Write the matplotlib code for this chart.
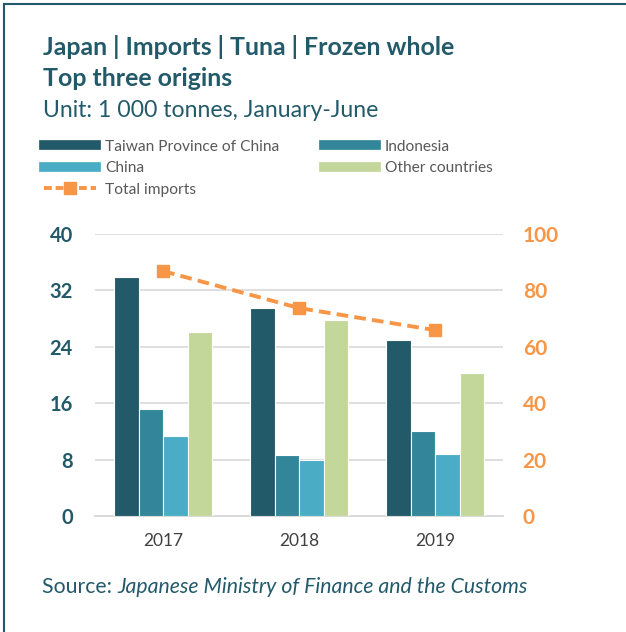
import numpy as np
import matplotlib.pyplot as plt
from matplotlib.lines import Line2D

plt.rcParams['font.family'] = ['Lato', 'DejaVu Sans']

years = ['2017', '2018', '2019']
taiwan = [33.8, 29.5, 24.9]
indonesia = [15.2, 8.6, 12.0]
china = [11.3, 8.0, 8.8]
other = [26.1, 27.7, 20.2]
total = [86.7, 73.6, 65.8]

names = ['Taiwan Province of China', 'Indonesia', 'China', 'Other countries']
colors = ['#235A6A', '#338599', '#4BACC6', '#C4D79B']
orange = '#F79646'
dark = '#235A6A'

fig = plt.figure(figsize=(6.26, 6.32), dpi=100)
ax = fig.add_axes([0.152, 0.1835, 0.652, 0.447])
ax2 = ax.twinx()

x = np.arange(len(years))
w = 0.18
for i, (vals, c) in enumerate(zip([taiwan, indonesia, china, other], colors)):
    ax.bar(x + (i - 1.5) * w, vals, w, color=c, edgecolor='white', linewidth=0.8, zorder=3)

ax2.plot(x, total, color=orange, linestyle=(0, (3, 1.6)), linewidth=2.8,
         marker='s', markersize=9, zorder=4)

ax.set_xlim(-0.5, 2.5)
ax.set_ylim(0, 40)
ax.set_yticks([0, 8, 16, 24, 32, 40])
ax2.set_ylim(0, 100)
ax2.set_yticks([0, 20, 40, 60, 80, 100])
ax.set_xticks(x)
ax.set_xticklabels(years)
ax.grid(axis='y', color='#D9D9D9', linewidth=1.2, zorder=0)
for s in ['top', 'right', 'left']:
    ax.spines[s].set_visible(False)
    ax2.spines[s].set_visible(False)
ax2.spines['bottom'].set_visible(False)
ax.spines['bottom'].set_color('#D9D9D9')
ax.spines['bottom'].set_linewidth(1.4)
ax.tick_params(axis='y', length=0, pad=16, labelsize=14.5, labelcolor=dark)
ax.tick_params(axis='x', length=0, pad=12, labelsize=12.5, labelcolor='#404040')
ax2.tick_params(axis='y', length=0, pad=14, labelsize=15, labelcolor=orange)
for t in ax.get_yticklabels():
    t.set_fontweight('bold')
for t in ax2.get_yticklabels():
    t.set_fontweight('bold')

fig.text(0.069, 0.913, 'Japan | Imports | Tuna | Frozen whole', fontsize=17.9,
         fontweight='bold', color=dark, va='baseline')
fig.text(0.069, 0.864, 'Top three origins', fontsize=17.9,
         fontweight='bold', color=dark, va='baseline')
fig.text(0.069, 0.815, 'Unit: 1 000 tonnes, January-June', fontsize=16.6,
         color=dark, va='baseline')

handles = [Line2D([], [], color=colors[0], linewidth=7),
           Line2D([], [], color=colors[2], linewidth=7),
           Line2D([], [], color=orange, linewidth=2.8, linestyle=(0, (2, 1)),
                  marker='s', markersize=8),
           Line2D([], [], color=colors[1], linewidth=7),
           Line2D([], [], color=colors[3], linewidth=7)]
labels = [names[0], names[2], 'Total imports', names[1], names[3]]
fig.legend(handles, labels, loc='upper left', bbox_to_anchor=(0.061, 0.789),
           ncol=2, frameon=False, fontsize=11.2, labelcolor='#595959',
           handlelength=3.3, handletextpad=0.6, columnspacing=2.9,
           labelspacing=0.48, borderaxespad=0)

src = fig.text(0.067, 0.062, 'Source: ', fontsize=15.3, color=dark, va='baseline')
fig.canvas.draw()
bb = src.get_window_extent(fig.canvas.get_renderer()).transformed(fig.transFigure.inverted())
fig.text(bb.x1, 0.062, 'Japanese Ministry of Finance and the Customs', fontsize=15.3,
         color=dark, style='italic', va='baseline')

fig.add_artist(Line2D([0.006, 0.006], [0, 0.994], color=dark, linewidth=1.5))
fig.add_artist(Line2D([0.006, 1.0], [0.994, 0.994], color=dark, linewidth=1.5))

fig.savefig('out.png', dpi=100)
